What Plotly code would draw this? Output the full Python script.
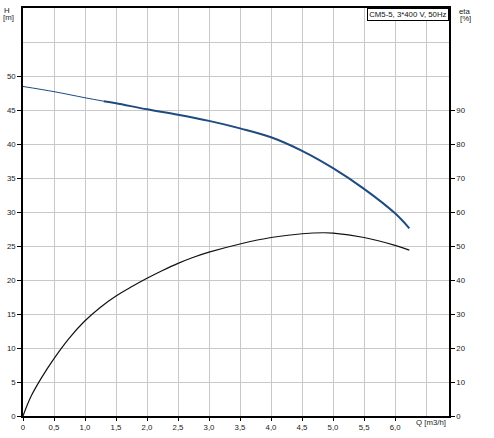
import plotly.graph_objects as go

# Pump head curve H [m] vs Q [m3/h]
q_head = [0, 0.5, 1.0, 1.3, 1.5, 2.0, 2.5, 3.0, 3.5, 4.0, 4.5, 5.0, 5.5, 6.0, 6.23]
h_head = [48.46, 47.7, 46.8, 46.3, 46.0, 45.1, 44.3, 43.4, 42.3, 41.0, 39.0, 36.45, 33.4, 29.8, 27.6]
q_split = 1.3  # start of the duty (thick) part of the head curve

# Efficiency curve eta [%] vs Q [m3/h]
q_eta = [0, 0.13, 0.3, 0.5, 0.75, 1.0, 1.25, 1.5, 1.75, 2.0, 2.25, 2.5, 2.75, 3.0, 3.5, 4.0, 4.5, 4.85, 5.0, 5.5, 6.0, 6.23]
eta = [0, 5.8, 11.3, 16.9, 23.0, 28.0, 32.0, 35.3, 38.0, 40.5, 42.8, 44.9, 46.7, 48.2, 50.6, 52.5, 53.6, 53.9, 53.8, 52.5, 50.2, 48.8]

x_ticks = [0, 0.5, 1.0, 1.5, 2.0, 2.5, 3.0, 3.5, 4.0, 4.5, 5.0, 5.5, 6.0]
x_labels = ["0", "0,5", "1,0", "1,5", "2,0", "2,5", "3,0", "3,5", "4,0", "4,5", "5,0", "5,5", "6,0"]
h_ticks = [0, 5, 10, 15, 20, 25, 30, 35, 40, 45, 50]
eta_ticks = [0, 10, 20, 30, 40, 50, 60, 70, 80, 90]

title_text = "CM5-5, 3*400 V, 50Hz"

FONT = "Liberation Sans, Arial, sans-serif"
BLUE = "#1e4b80"
GRID = "#c8c8c8"
FS = 7.8

q1 = [q for q in q_head if q <= q_split]
h1 = [h for q, h in zip(q_head, h_head) if q <= q_split]
q2 = [q for q in q_head if q >= q_split]
h2 = [h for q, h in zip(q_head, h_head) if q >= q_split]

fig = go.Figure()
fig.add_trace(go.Scatter(x=q1, y=h1, mode="lines", line=dict(color=BLUE, width=1, shape="spline"),
                         showlegend=False, hoverinfo="skip"))
fig.add_trace(go.Scatter(x=q2, y=h2, mode="lines", line=dict(color=BLUE, width=2, shape="spline"),
                         showlegend=False))
fig.add_trace(go.Scatter(x=q_eta, y=eta, mode="lines", yaxis="y2",
                         line=dict(color="#111111", width=1.2, shape="spline", smoothing=1.0),
                         showlegend=False))

axis_font = dict(family=FONT, size=FS, color="#222222")

fig.update_layout(
    width=494, height=438,
    margin=dict(l=23, r=45, t=6, b=18, pad=0),
    paper_bgcolor="white", plot_bgcolor="white",
    xaxis=dict(range=[0, 6.87], tickvals=x_ticks, ticktext=x_labels, showgrid=True,
               gridcolor=GRID, gridwidth=1, zeroline=False, showline=True, linecolor="black",
               linewidth=1.5, mirror=True, ticks="outside", ticklen=3, tickcolor="black",
               tickfont=axis_font,
               minor=dict(tickvals=[6.5], showgrid=True, gridcolor=GRID, gridwidth=1, ticks="")),
    yaxis=dict(range=[0, 60], tickvals=h_ticks, showgrid=True, gridcolor=GRID, gridwidth=1,
               zeroline=False, showline=True, linecolor="black", linewidth=1.5, mirror=True,
               ticks="outside", ticklen=4, tickcolor="black", tickfont=axis_font,
               minor=dict(tickvals=[55], showgrid=True, gridcolor=GRID, gridwidth=1, ticks="")),
    yaxis2=dict(range=[0, 120], tickvals=eta_ticks, overlaying="y", side="right", showgrid=False,
                zeroline=False, showline=True, linecolor="black", linewidth=1.5,
                ticks="outside", ticklen=4, tickcolor="black", tickfont=axis_font),
)

ann_font = dict(family=FONT, size=FS, color="#222222")
fig.add_annotation(text="H", xref="paper", yref="paper", x=(7 - 23) / 426, y=1 + (6 - 9.0) / 414,
                   xanchor="center", yanchor="middle", showarrow=False, font=ann_font)
fig.add_annotation(text="[m]", xref="paper", yref="paper", x=(8 - 23) / 426, y=1 + (6 - 15.5) / 414,
                   xanchor="center", yanchor="middle", showarrow=False, font=ann_font)
fig.add_annotation(text="eta", xref="paper", yref="paper", x=(465 - 23) / 426, y=1 + (6 - 10.0) / 414,
                   xanchor="center", yanchor="middle", showarrow=False, font=ann_font)
fig.add_annotation(text="[%]", xref="paper", yref="paper", x=(465 - 23) / 426, y=1 + (6 - 16.5) / 414,
                   xanchor="center", yanchor="middle", showarrow=False, font=ann_font)
fig.add_annotation(text="Q [m3/h]", xref="paper", yref="paper", x=(430.7 - 23) / 426, y=(420 - 427) / 414,
                   xanchor="center", yanchor="middle", showarrow=False, font=ann_font)
fig.add_annotation(text=title_text, xref="paper", yref="paper", x=1, y=1, xanchor="right", yanchor="top",
                   showarrow=False, font=dict(family=FONT, size=FS, color="#111111"),
                   bordercolor="black", borderwidth=1, borderpad=1.2, bgcolor="white")

fig.write_html("out.html", config={"displayModeBar": False},
               post_script="document.body.style.margin='0';document.body.style.overflow='hidden';")
